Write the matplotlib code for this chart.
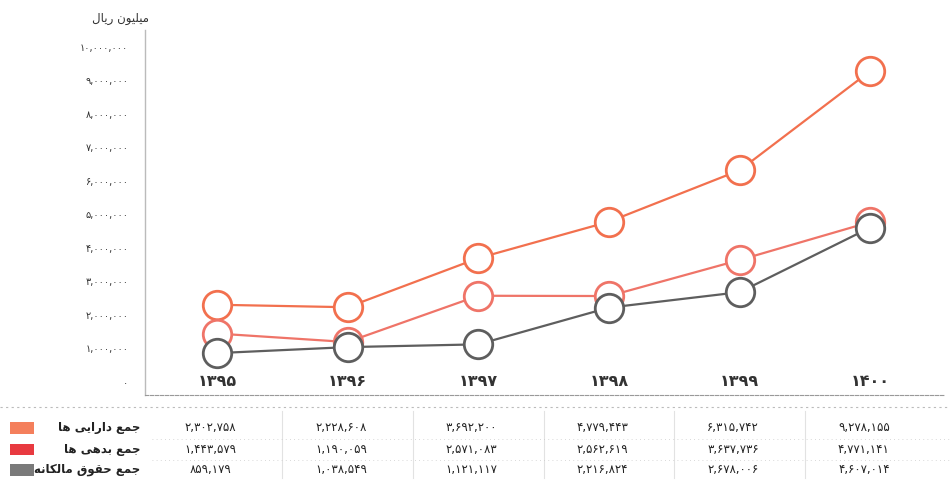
import matplotlib
matplotlib.use("Agg")
import matplotlib.pyplot as plt
from matplotlib.patches import Rectangle
from matplotlib.transforms import blended_transform_factory

# ---- data -------------------------------------------------------------
years = [1395, 1396, 1397, 1398, 1399, 1400]
total_assets = [2302758, 2228608, 3692200, 4779443, 6315742, 9278155]
total_liabilities = [1443579, 1190059, 2571083, 2562619, 3637736, 4771141]
total_equity = [859179, 1038549, 1121117, 2216824, 2678006, 4607014]

series_names = ["جمع دارایی ها", "جمع بدهی ها", "جمع حقوق مالکانه"]
series_colors = ["#F2704E", "#EF7468", "#5E5E5E"]
swatch_colors = ["#F47F5C", "#E83A40", "#7A7A7A"]
unit_label = "میلیون ریال"
y_ticks = list(range(0, 10000001, 1000000))

# ---- persian helpers --------------------------------------------------
FA_DIGITS = str.maketrans("0123456789", "۰۱۲۳۴۵۶۷۸۹")

# isolated, final, initial, medial
FORMS = {
    "ا": ("\uFE8D", "\uFE8E", None, None),
    "ب": ("\uFE8F", "\uFE90", "\uFE91", "\uFE92"),
    "ج": ("\uFE9D", "\uFE9E", "\uFE9F", "\uFEA0"),
    "ح": ("\uFEA1", "\uFEA2", "\uFEA3", "\uFEA4"),
    "د": ("\uFEA9", "\uFEAA", None, None),
    "ر": ("\uFEAD", "\uFEAE", None, None),
    "ع": ("\uFEC9", "\uFECA", "\uFECB", "\uFECC"),
    "ق": ("\uFED5", "\uFED6", "\uFED7", "\uFED8"),
    "ل": ("\uFEDD", "\uFEDE", "\uFEDF", "\uFEE0"),
    "م": ("\uFEE1", "\uFEE2", "\uFEE3", "\uFEE4"),
    "ن": ("\uFEE5", "\uFEE6", "\uFEE7", "\uFEE8"),
    "ه": ("\uFEE9", "\uFEEA", "\uFEEB", "\uFEEC"),
    "و": ("\uFEED", "\uFEEE", None, None),
    "ی": ("\uFBFC", "\uFBFD", "\uFBFE", "\uFBFF"),
    "ک": ("\uFB8E", "\uFB8F", "\uFB90", "\uFB91"),
}


def shape(text):
    out = []
    for i, ch in enumerate(text):
        if ch not in FORMS:
            out.append(ch)
            continue
        prev = text[i - 1] if i > 0 else ""
        nxt = text[i + 1] if i + 1 < len(text) else ""
        joins_prev = prev in FORMS and FORMS[prev][2] is not None
        joins_next = FORMS[ch][2] is not None and nxt in FORMS
        iso, fin, ini, med = FORMS[ch]
        if joins_prev and joins_next:
            out.append(med)
        elif joins_prev:
            out.append(fin)
        elif joins_next:
            out.append(ini)
        else:
            out.append(iso)
    return "".join(out)[::-1]


def fa_num(v):
    return f"{v:,}".translate(FA_DIGITS)


plt.rcParams["font.family"] = ["DejaVu Sans"]

# ---- figure -----------------------------------------------------------
fig = plt.figure(figsize=(9.5, 4.83), dpi=100)
ax = fig.add_axes([0.1526, 0.1822, 0.842, 0.7557])

x = list(range(len(years)))
for vals, col in zip([total_assets, total_liabilities, total_equity], series_colors):
    ax.plot(x, vals, color=col, lw=1.6, marker="o", ms=20.5, mfc="white",
            mec=col, mew=2.0, zorder=3)

ax.set_xlim(-0.55, 5.57)
ax.set_ylim(-390000, 10500000)
ax.set_yticks(y_ticks)
ax.set_yticklabels([fa_num(t) for t in y_ticks], fontsize=7, color="#333333")
ax.tick_params(axis="y", length=0, pad=12)
ax.set_xticks([])

for xi, yr in zip(x, years):
    ax.text(xi, 0, str(yr).translate(FA_DIGITS), ha="center", va="center",
            fontsize=11.5, fontweight="bold", color="#333333")

for side in ["top", "right"]:
    ax.spines[side].set_visible(False)
ax.spines["left"].set_color("#BBBBBB")
ax.spines["left"].set_linewidth(1.0)
ax.spines["bottom"].set_color("#999999")
ax.spines["bottom"].set_linestyle((0, (3, 1.5)))

fig.text(0.157, 0.962, shape(unit_label), ha="right", va="center",
         fontsize=8.5, color="#333333")

# ---- table under the chart -------------------------------------------
tr = blended_transform_factory(ax.transData, fig.transFigure)
row_y = [0.114, 0.069, 0.027]
fig.add_artist(plt.Line2D([0, 1], [0.157, 0.157], color="#BBBBBB", lw=0.8,
                          ls=(0, (2, 3))))
for yb in [0.092, 0.048]:
    fig.add_artist(plt.Line2D([0.16, 1], [yb, yb], color="#CCCCCC", lw=0.6,
                              ls=(0, (1, 4))))
for xs in [0.5, 1.5, 2.5, 3.5, 4.5]:
    ax.plot([xs, xs], [0.01, 0.15], transform=tr, color="#E2E2E2", lw=0.8,
            clip_on=False)

rows = [total_assets, total_liabilities, total_equity]
for ry, name, sw, vals in zip(row_y, series_names, swatch_colors, rows):
    fig.add_artist(Rectangle((0.011, ry - 0.012), 0.025, 0.024,
                             transform=fig.transFigure, color=sw, lw=0))
    fig.text(0.148, ry, shape(name), ha="right", va="center", fontsize=8.5,
             fontweight="bold", color="#222222")
    for xi, v in zip(x, vals):
        ax.text(xi - 0.05, ry, fa_num(v), transform=tr, ha="center",
                va="center", fontsize=8.5, color="#222222")

fig.savefig("out.png", dpi=100, facecolor="white")
